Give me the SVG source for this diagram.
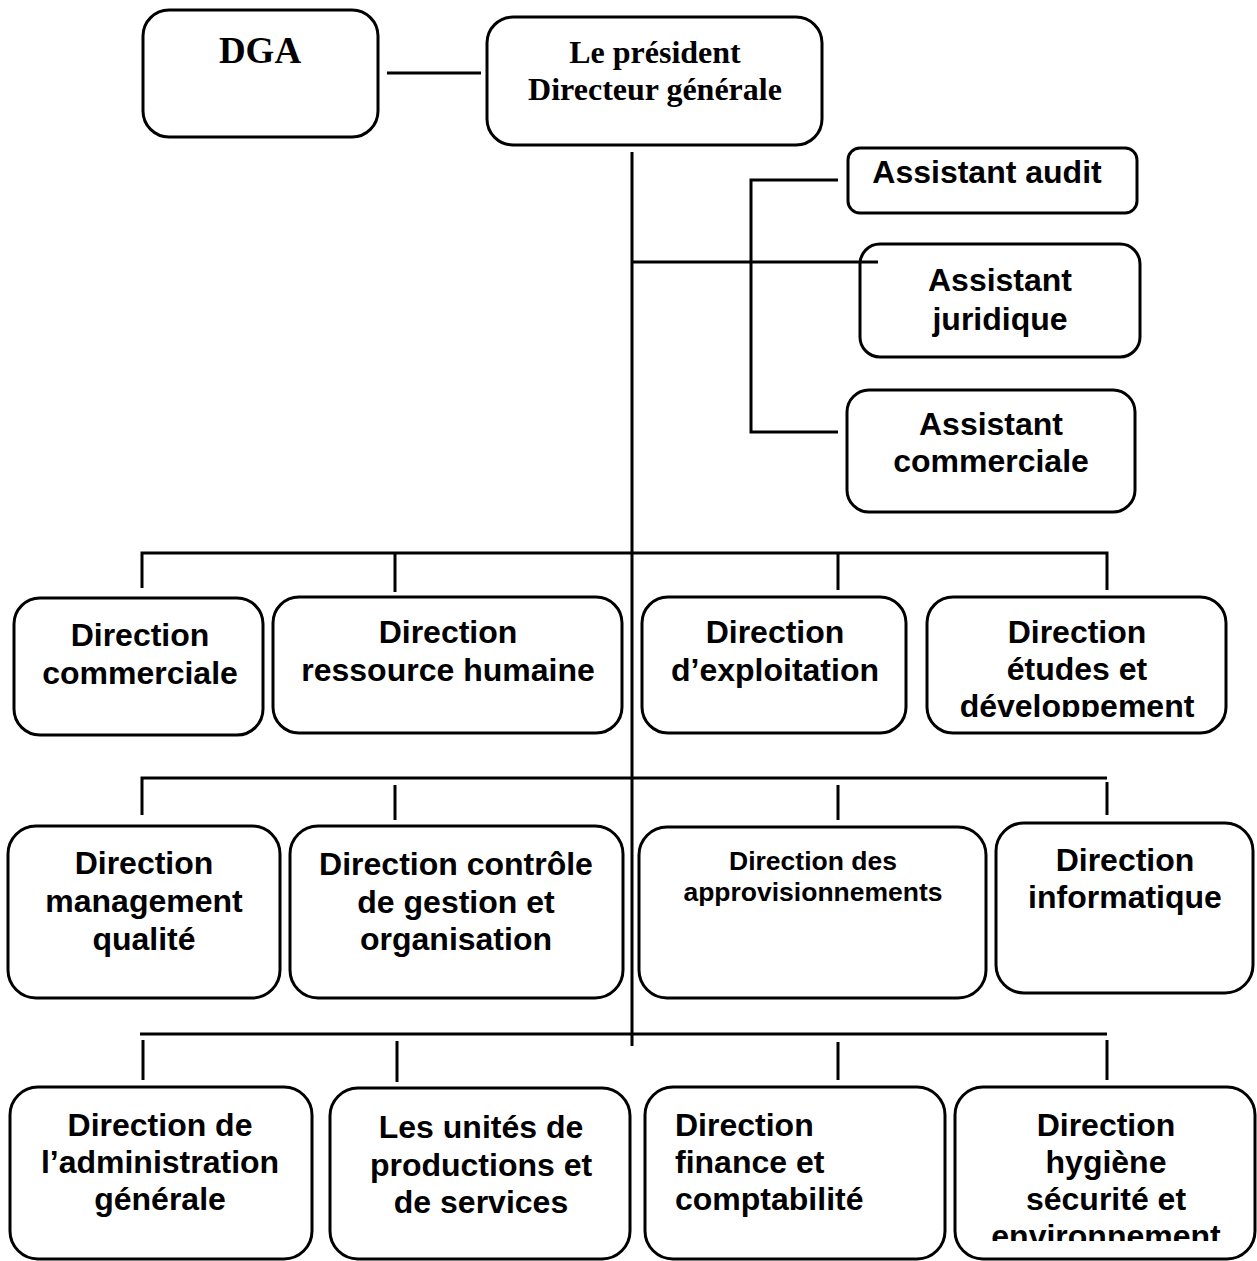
<svg xmlns="http://www.w3.org/2000/svg" width="1257" height="1261" viewBox="0 0 1257 1261">
<style>
.box{fill:#fff;stroke:#000;stroke-width:3}
.ln{fill:none;stroke:#000;stroke-width:3}
.t{font-family:"Liberation Sans",Arial,sans-serif;font-weight:bold;font-size:32px;text-anchor:middle;fill:#000}
.s{font-family:"Liberation Serif","Times New Roman",serif;font-weight:bold;font-size:32px;text-anchor:middle;fill:#000}
</style>
<defs>
<clipPath id="c1"><rect x="927" y="597" width="300" height="120"/></clipPath>
<clipPath id="c2"><rect x="955" y="1087" width="300" height="154"/></clipPath>
</defs>
<rect width="1257" height="1261" fill="#fff"/>
<g id="dga"><rect class="box" x="143" y="10" width="235" height="127" rx="26"/><text class="s" x="260" y="63" style="font-size:37px">DGA</text></g>
<g id="pdg"><rect class="box" x="487" y="17" width="335" height="128" rx="26"/><text class="s" x="655" y="63">Le président</text><text class="s" x="655" y="100">Directeur générale</text></g>
<g id="audit"><rect class="box" x="848" y="148" width="289" height="65" rx="12"/><text class="t" x="987" y="183">Assistant audit</text></g>
<g id="juridique"><rect class="box" x="860" y="244" width="280" height="113" rx="20"/><text class="t" x="1000" y="291">Assistant</text><text class="t" x="1000" y="330">juridique</text></g>
<g id="acommerciale"><rect class="box" x="847" y="390" width="288" height="122" rx="22"/><text class="t" x="991" y="435">Assistant</text><text class="t" x="991" y="472">commerciale</text></g>

<g id="dcommerciale"><rect class="box" x="14" y="598" width="249" height="137" rx="26"/><text class="t" x="140" y="646">Direction</text><text class="t" x="140" y="684">commerciale</text></g>
<g id="drh"><rect class="box" x="273" y="597" width="349" height="136" rx="26"/><text class="t" x="448" y="643">Direction</text><text class="t" x="448" y="681">ressource humaine</text></g>
<g id="dexploitation"><rect class="box" x="642" y="597" width="264" height="136" rx="26"/><text class="t" x="775" y="643">Direction</text><text class="t" x="775" y="681">d’exploitation</text></g>
<g id="detudes"><rect class="box" x="927" y="597" width="299" height="136" rx="26"/><g clip-path="url(#c1)"><text class="t" x="1077" y="643">Direction</text><text class="t" x="1077" y="680">études et</text><text class="t" x="1077" y="717">développement</text></g></g>

<g id="dqualite"><rect class="box" x="8" y="826" width="272" height="172" rx="28"/><text class="t" x="144" y="874">Direction</text><text class="t" x="144" y="912">management</text><text class="t" x="144" y="950">qualité</text></g>
<g id="dcontrole"><rect class="box" x="290" y="826" width="333" height="172" rx="28"/><text class="t" x="456" y="875">Direction contrôle</text><text class="t" x="456" y="913">de gestion et</text><text class="t" x="456" y="950">organisation</text></g>
<g id="dappro"><rect class="box" x="639" y="827" width="347" height="171" rx="28"/><text class="t" x="813" y="870" style="font-size:26.5px">Direction des</text><text class="t" x="813" y="901" style="font-size:26.5px">approvisionnements</text></g>
<g id="dinfo"><rect class="box" x="996" y="823" width="257" height="170" rx="28"/><text class="t" x="1125" y="871">Direction</text><text class="t" x="1125" y="908">informatique</text></g>

<g id="dadmin"><rect class="box" x="10" y="1087" width="302" height="172" rx="28"/><text class="t" x="160" y="1136">Direction de</text><text class="t" x="160" y="1173">l’administration</text><text class="t" x="160" y="1210">générale</text></g>
<g id="unites"><rect class="box" x="330" y="1088" width="300" height="171" rx="28"/><text class="t" x="481" y="1138">Les unités de</text><text class="t" x="481" y="1176">productions et</text><text class="t" x="481" y="1213">de services</text></g>
<g id="dfinance"><rect class="box" x="645" y="1087" width="300" height="172" rx="28"/><text class="t" x="675" y="1136" style="text-anchor:start">Direction</text><text class="t" x="675" y="1173" style="text-anchor:start">finance et</text><text class="t" x="675" y="1210" style="text-anchor:start">comptabilité</text></g>
<g id="dhygiene"><rect class="box" x="955" y="1087" width="300" height="172" rx="28"/><g clip-path="url(#c2)"><text class="t" x="1106" y="1136">Direction</text><text class="t" x="1106" y="1173">hygiène</text><text class="t" x="1106" y="1210">sécurité et</text><text class="t" x="1106" y="1247">environnement</text></g></g>

<g id="connectors">
<path class="ln" d="M387 73H481"/>
<path class="ln" d="M632 152V1046"/>
<path class="ln" d="M838 180H751V432H838"/>
<path class="ln" d="M632 262H878"/>
<path class="ln" d="M142 588V553H1107V590"/>
<path class="ln" d="M395 553V592M838 553V590"/>
<path class="ln" d="M142 815V778H1107"/>
<path class="ln" d="M1107 782V815M395 785V820M838 785V820"/>
<path class="ln" d="M140 1034H1107"/>
<path class="ln" d="M143 1040V1080M397 1041V1082M838 1042V1080M1107 1040V1080"/>
</g>
</svg>
